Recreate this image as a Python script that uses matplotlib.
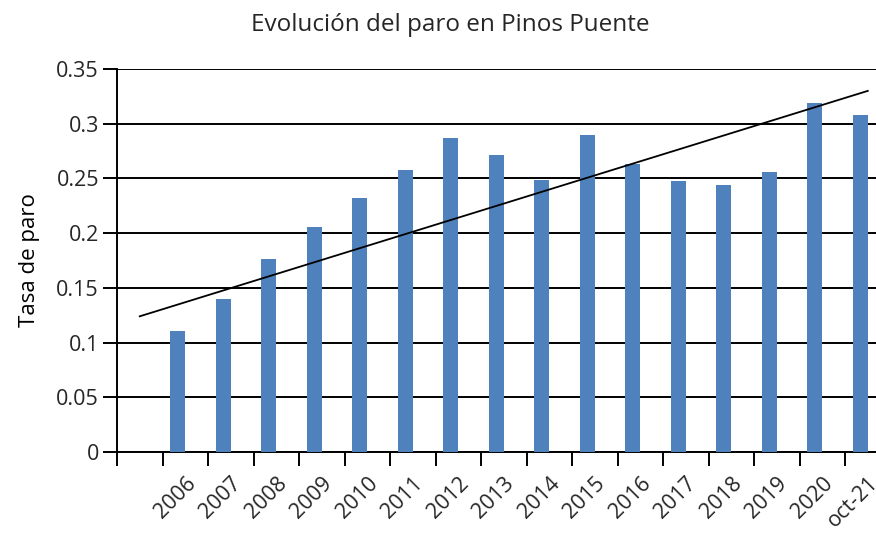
import matplotlib.pyplot as plt
import matplotlib.transforms as mtransforms
import numpy as np

# categories (first slot is empty in the original chart)
labels = ["", "2006", "2007", "2008", "2009", "2010", "2011", "2012", "2013",
          "2014", "2015", "2016", "2017", "2018", "2019", "2020", "oct-21"]
tasa = [np.nan, 0.111, 0.140, 0.176, 0.206, 0.232, 0.258, 0.287, 0.271,
        0.249, 0.290, 0.263, 0.248, 0.244, 0.256, 0.319, 0.308]
# trend line end points (first and last slot)
trend = [0.124, 0.330]

plt.rcParams["font.family"] = ["Open Sans", "DejaVu Sans"]
plt.rcParams["text.color"] = "#262626"
plt.rcParams["xtick.labelcolor"] = "#262626"
plt.rcParams["ytick.labelcolor"] = "#262626"

fig = plt.figure(figsize=(8.76, 5.34), dpi=100)
ax = fig.add_axes([117 / 876, 82 / 534, 773.5 / 876, 383 / 534])

x = np.arange(len(labels))
bar_w = 0.33
ax.bar(x - bar_w / 2, tasa, width=bar_w, color="#4f81bd", zorder=3)
ax.plot([x[0], x[-1]], trend, color="black", lw=1.3, zorder=4)

ax.set_xlim(-0.5, len(labels) - 0.5)
ax.set_ylim(0, 0.35)
ax.set_yticks(np.arange(0, 0.351, 0.05))
ax.set_yticklabels(["0", "0.05", "0.1", "0.15", "0.2", "0.25", "0.3", "0.35"])
ax.yaxis.grid(True, color="black", lw=1.4)
ax.set_axisbelow(True)

# ticks on category boundaries, labels at category centres
ax.set_xticks(np.arange(-0.5, len(labels), 1.0))
ax.set_xticklabels([])
ax.set_xticks(x, minor=True)
ax.set_xticklabels(labels, minor=True, rotation=45, ha="right",
                   rotation_mode="anchor", fontsize=15.5)
shift = mtransforms.ScaledTranslation(-6 / 100, 3 / 100, fig.dpi_scale_trans)
for lab in ax.get_xticklabels(minor=True):
    lab.set_transform(lab.get_transform() + shift)
ax.tick_params(axis="x", which="minor", length=0, pad=15)
ax.tick_params(axis="x", which="major", length=10, width=1.4, direction="out")
ax.tick_params(axis="y", length=10, width=1.4, labelsize=15.5, pad=3)

for s in ["top", "right"]:
    ax.spines[s].set_visible(False)
ax.spines["left"].set_linewidth(1.4)
ax.spines["bottom"].set_linewidth(1.4)

ax.set_ylabel("Tasa de paro", fontsize=16)
ax.yaxis.set_label_coords(-77 / 773.5, (452 - 260) / 383)
fig.text(450 / 876, 1 - 25 / 534, "Evolución del paro en Pinos Puente",
         ha="center", va="center", fontsize=17.5)

fig.savefig("out.png", dpi=100)
